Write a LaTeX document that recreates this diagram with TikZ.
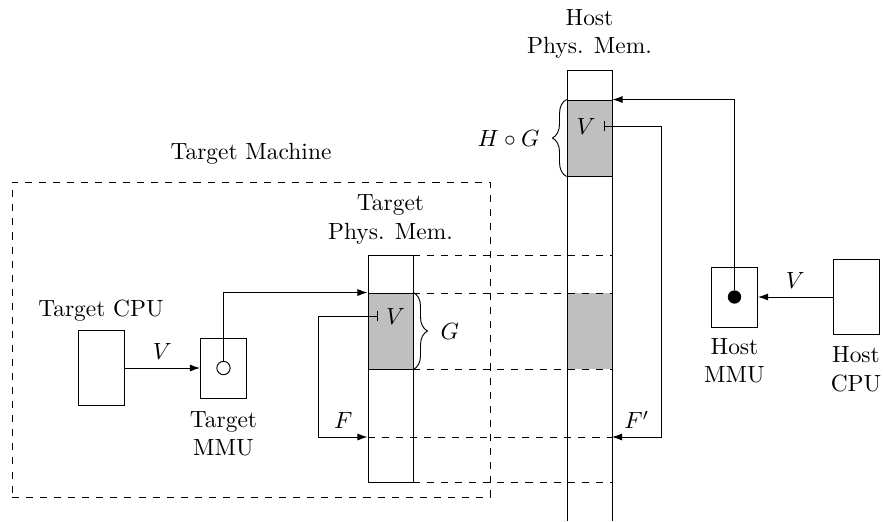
\documentclass[tikz,border=0pt]{standalone}
\usepackage{amsmath}
\usepackage{amssymb}
\usetikzlibrary{positioning,arrows.meta,decorations.pathreplacing}

\tikzset{
  unit/.style={draw, minimum width=0.69cm},
  cpu/.style={unit, minimum height=1.13cm},
  mmu/.style={unit, minimum height=0.9cm},
  lbl/.style={align=center},
  mapped/.style={fill=gray!50},
  block/.style={draw, mapped, minimum width=0.675cm, minimum height=1.14cm},
  level/.style={dashed},
  brc/.style={decorate, decoration={brace, amplitude=6pt}},
}

\begin{document}
\begin{tikzpicture}[x=0.015cm, y=-0.015cm, >={Latex[length=4.3pt, width=3pt]}]
        \useasboundingbox (0,0) rectangle (883,521);
        
        \coordinate (fl) at (0,437);
        \coordinate (htop) at (589.5,70);
        \coordinate (hr) at (612,70);
        
        % target machine
        \node[draw, dashed, minimum width=7.17cm, minimum height=4.725cm] (tmach) at (251,339.5) {};
        \node[above=4pt of tmach] (tmachlbl) {Target Machine};
        
        % host memory
        \node[mapped, minimum width=0.675cm, minimum height=1.14cm] (hshadow) at (589.5,331) {};
        \draw (567,521) -- (567,70) -- (hr) -- (612,521);
        \node[block] (hblk) at (589.5,138) {};
        \node[lbl, above=1.5pt of htop] (hmemlbl) {Host\\Phys. Mem.};
        
        % target memory
        \node[draw, minimum width=0.675cm, minimum height=3.405cm] (tmem) at (390.5,368.5) {};
        \node[block] (tblk) at (390.5,331) {};
        \node[lbl, above=1pt of tmem] (tmemlbl) {Target\\Phys. Mem.};
        
        \foreach \y in {255,293,369,482}
          \draw[level] (413,\y) -- (612,\y);
        \draw[level] (tmem.west |- fl) -- (hr |- fl);
        
        % target side
        \node[cpu] (tcpu) at (101,368) {};
        \node[above=0pt of tcpu] (tcpulbl) {Target CPU};
        \node[mmu] (tmmu) at (223.5,368) {};
        \node[lbl, below=2pt of tmmu] (tmmulbl) {Target\\MMU};
        \node[draw, circle, inner sep=0pt, minimum size=0.2cm] (tcirc) at (223.5,368) {};
        
        \draw[->] (tcpu) -- node[above] {$V$} (tmmu);
        \draw[->] (tcirc.north) |- (tblk.north west);
        
        \node (tva) at (395.5,316) {$V$};
        \draw[|->] (tva.west) -- ++(-59,0) |- (tmem.west |- fl) node[pos=0.75, above] {$F$};
        \draw[brc] (tblk.north east) -- (tblk.south east) node[midway, right=8pt] {$G$};
        
        % host side
        \node[mmu] (hmmu) at (734.5,297) {};
        \node[lbl, below=1pt of hmmu] (hmmulbl) {Host\\MMU};
        \node[circle, fill=black, inner sep=0pt, minimum size=0.2cm] (hdot) at (734.5,297) {};
        \node[cpu] (hcpu) at (856,297) {};
        \node[lbl, below=1.5pt of hcpu] (hcpulbl) {Host\\CPU};
        
        \draw[->] (hcpu) -- node[above] {$V$} (hmmu);
        \draw[->] (hdot.north) |- (hblk.north east);
        
        \node (hva) at (586,126) {$V$};
        \draw[|->] (hva.east) -- ++(58,0) |- (hr |- fl) node[pos=0.75, above] {$F'$};
        \draw[brc] (hblk.south west) -- (hblk.north west) node[midway, left=8pt] {$H \circ G$};
        
\end{tikzpicture}
\end{document}
